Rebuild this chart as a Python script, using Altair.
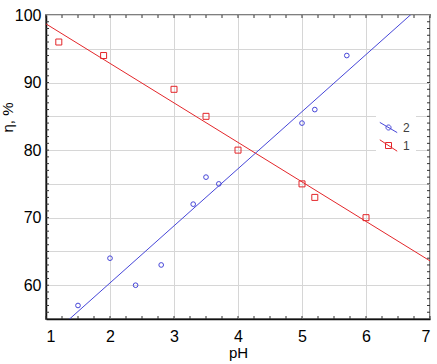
import altair as alt
import pandas as pd

# Series 1 (red squares) and series 2 (blue circles): efficiency vs pH
ph_1 = [1.2, 1.9, 3.0, 3.5, 4.0, 5.0, 5.2, 6.0]
eta_1 = [96, 94, 89, 85, 80, 75, 73, 70]
ph_2 = [1.5, 2.0, 2.4, 2.8, 3.3, 3.5, 3.7, 5.0, 5.2, 5.7]
eta_2 = [57, 64, 60, 63, 72, 76, 75, 84, 86, 94]

series_order = ["2", "1"]
series_colors = ["#4646d8", "#e3262a"]
legend_symbols = [
    "M-1.45,-0.85L1.45,0.85M0.42,0A0.42,0.42,0,1,1,-0.42,0A0.42,0.42,0,1,1,0.42,0",
    "M-1.45,-0.95L1.45,0.95M-0.5,-0.5L0.5,-0.5L0.5,0.5L-0.5,0.5Z",
]

x_ticks = [1, 2, 3, 4, 5, 6, 7]
y_grid = [55, 60, 65, 70, 75, 80, 85, 90, 95, 100]
x_minor = [1.0, 1.25, 1.5, 1.75, 2.0, 2.25, 2.5, 2.75, 3.0, 3.25, 3.5, 3.75, 4.0,
           4.25, 4.5, 4.75, 5.0, 5.25, 5.5, 5.75, 6.0, 6.25, 6.5, 6.75, 7.0]
y_minor = [56, 57, 58, 59, 60, 61, 62, 63, 64, 65, 66, 67, 68, 69, 70, 71, 72, 73,
           74, 75, 76, 77, 78, 79, 80, 81, 82, 83, 84, 85, 86, 87, 88, 89, 90, 91,
           92, 93, 94, 95, 96, 97, 98, 99]

W, H = 384, 304
FONT = "Liberation Sans"

df1 = pd.DataFrame({"pH": ph_1, "eta": eta_1, "series": "1"})
df2 = pd.DataFrame({"pH": ph_2, "eta": eta_2, "series": "2"})
df = pd.concat([df1, df2], ignore_index=True)
xm = pd.DataFrame({"pH": x_minor})
ym = pd.DataFrame({"eta": y_minor})

x_scale = alt.Scale(domain=[1, 7], nice=False, zero=False)
y_scale = alt.Scale(domain=[55, 100], nice=False, zero=False)
color_scale = alt.Scale(domain=series_order, range=series_colors)

x_axis = alt.Axis(
    values=x_ticks, title="pH", grid=True, ticks=False,
    labelFont=FONT, labelFontSize=16, labelColor="black", labelPadding=9,
    titleFont=FONT, titleFontSize=15, titleFontWeight="normal", titleColor="black",
    titlePadding=1, domainColor="#111111", domainWidth=1.5,
)
y_axis = alt.Axis(
    values=y_grid, title="η, %", grid=True, ticks=False,
    labelExpr="datum.value % 10 == 0 ? datum.label : ''",
    labelFont=FONT, labelFontSize=16, labelColor="black", labelPadding=5,
    titleFont=FONT, titleFontSize=15, titleFontWeight="normal", titleColor="black",
    titleAngle=270, titleAlign="center", titleBaseline="middle",
    titleX=-39, titleY=102, domainColor="#111111", domainWidth=1.5,
)

X = alt.X("pH:Q", scale=x_scale, axis=x_axis)
Y = alt.Y("eta:Q", scale=y_scale, axis=y_axis)


def fit_line(data, colour):
    return alt.Chart(data).transform_regression(
        "pH", "eta", extent=[1, 7]
    ).mark_line(clip=True, strokeWidth=1, color=colour).encode(x=X, y=Y)


fit1 = fit_line(df1, series_colors[1])
fit2 = fit_line(df2, series_colors[0])

pts1 = alt.Chart(df1).mark_point(
    shape="square", size=36, filled=False, strokeWidth=1, color=series_colors[1],
    opacity=1,
).encode(x=X, y=Y)
pts2 = alt.Chart(df2).mark_point(
    shape="circle", size=22, filled=False, strokeWidth=1, color=series_colors[0],
    opacity=1,
).encode(x=X, y=Y)

legend_props = dict(
    orient="none", legendX=330, legendY=100, title=None, fillColor="white",
    padding=6, symbolSize=144, symbolStrokeWidth=1, symbolOpacity=1,
    labelFont=FONT, labelFontSize=12, labelColor="#404040", labelOffset=8,
    rowPadding=2,
)
key = alt.Chart(df).transform_filter("false").mark_point(
    filled=False, opacity=1
).encode(
    x=X, y=Y,
    color=alt.Color("series:N", scale=color_scale, legend=alt.Legend(**legend_props)),
    shape=alt.Shape(
        "series:N",
        scale=alt.Scale(domain=series_order, range=legend_symbols),
        legend=alt.Legend(**legend_props),
    ),
)

# short inward ticks on all four sides of the frame
tick_style = dict(color="#333333", strokeWidth=1)
t_bottom = alt.Chart(xm).mark_rule(**tick_style).encode(
    x=X, y=alt.value(H), y2=alt.value(H - 3))
t_top = alt.Chart(xm).mark_rule(**tick_style).encode(
    x=X, y=alt.value(0), y2=alt.value(3))
t_left = alt.Chart(ym).mark_rule(**tick_style).encode(
    y=Y, x=alt.value(0), x2=alt.value(3))
t_right = alt.Chart(ym).mark_rule(**tick_style).encode(
    y=Y, x=alt.value(W), x2=alt.value(W - 3))

chart = alt.layer(
    fit1, fit2, pts1, pts2, key, t_bottom, t_top, t_left, t_right
).properties(
    width=W, height=H,
    autosize=alt.AutoSizeParams(type="none"),
    padding={"left": 46, "top": 15, "right": 7, "bottom": 45},
    background="white",
).configure_view(
    stroke="#7f7f7f", strokeWidth=2
).configure_axis(
    gridColor="#d6d6d6", gridWidth=1
)

chart.save("out.html", embed_options={"renderer": "svg", "actions": False})
